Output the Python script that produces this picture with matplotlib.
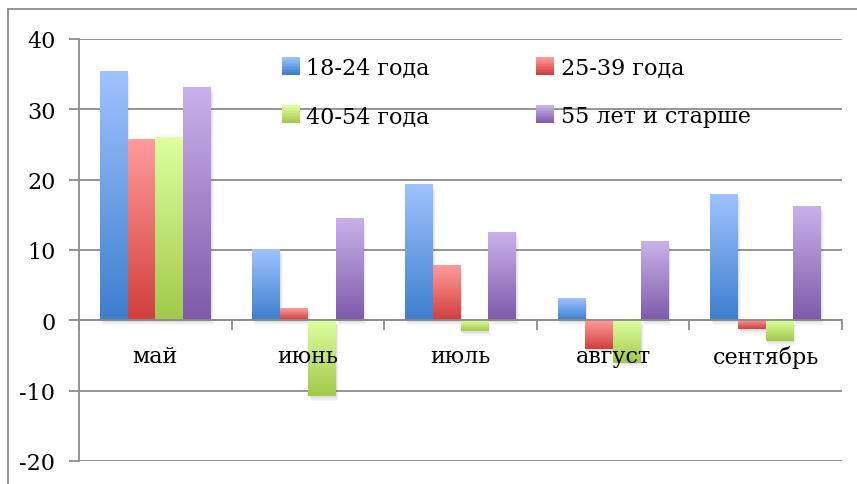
import numpy as np
import matplotlib
matplotlib.use("Agg")
import matplotlib.pyplot as plt
from matplotlib.colors import LinearSegmentedColormap
from matplotlib.patches import Rectangle
from matplotlib.legend_handler import HandlerBase
from matplotlib.lines import Line2D

months = ["май", "июнь", "июль", "август", "сентябрь"]
series = ["18-24 года", "25-39 года", "40-54 года", "55 лет и старше"]
v_18_24 = [35.4, 10.0, 19.2, 3.0, 17.9]
v_25_39 = [25.6, 1.6, 7.8, -4.1, -1.3]
v_40_54 = [25.9, -10.8, -1.5, -6.0, -2.9]
v_55 = [33.1, 14.4, 12.5, 11.1, 16.1]
values = [v_18_24, v_25_39, v_40_54, v_55]

# light (top) / dark (bottom) colours for each series
tops = ["#9ec2ff", "#ff9b9b", "#ddff9d", "#c8b1ea"]
bottoms = ["#3e7fce", "#d13f3e", "#a2c94b", "#7f5baa"]

plt.rcParams["font.family"] = ["DejaVu Serif"]
plt.rcParams["axes.unicode_minus"] = False
grey = "#8c8c8c"

fig = plt.figure(figsize=(8.57, 4.85), dpi=100)
ax = fig.add_axes([79 / 857, 1 - 462 / 485, (842 - 79) / 857, (462 - 40) / 485])

n = len(series)
width = 0.182
x = np.arange(len(months))

for i in range(n):
    cmap = LinearSegmentedColormap.from_list("g%d" % i, [bottoms[i], tops[i]])
    grad = np.linspace(0, 1, 64).reshape(-1, 1)
    bars = ax.bar(x + (i - (n - 1) / 2) * width, values[i], width, alpha=0)
    for b in bars:
        x0, w = b.get_x(), b.get_width()
        y0, h = b.get_y(), b.get_height()
        lo, hi = min(y0, y0 + h), max(y0, y0 + h)
        # soft shadow
        for k, a in enumerate([0.05, 0.04, 0.03]):
            d = 0.02 + k * 0.02
            ax.add_patch(Rectangle((x0 + d * 0.3, lo - d * 12), w, hi - lo,
                                   color="black", alpha=a, lw=0, zorder=1.5))
        ax.imshow(grad, extent=(x0, x0 + w, lo, hi), cmap=cmap, origin="lower",
                  aspect="auto", zorder=2, interpolation="bilinear")

ax.set_xlim(-0.5, len(months) - 0.5)
ax.set_ylim(-20, 40)
ax.set_yticks(range(-20, 41, 10))
ax.yaxis.grid(True, color=grey, lw=1.3)
ax.set_axisbelow(True)

for s in ["top", "right"]:
    ax.spines[s].set_visible(False)
ax.spines["left"].set_color(grey)
ax.spines["left"].set_linewidth(1.3)
ax.spines["bottom"].set_position(("data", 0))
ax.spines["bottom"].set_color(grey)
ax.spines["bottom"].set_linewidth(1.3)

ax.set_xticks(np.arange(len(months) + 1) - 0.5)
ax.set_xticklabels([])
ax.tick_params(axis="x", which="major", direction="out", length=7, color=grey, width=1.3)
ax.tick_params(axis="y", direction="out", length=7, color=grey, width=1.3, labelsize=16, pad=10)

# month labels on top of the bars
for xi, m in zip(x, months):
    ax.annotate(m, (xi, 0), xytext=(0, -26), textcoords="offset points",
                ha="center", va="center", fontsize=16, zorder=10)


class GradHandler(HandlerBase):
    def __init__(self, top, bottom):
        super().__init__()
        self.top, self.bottom = top, bottom

    def create_artists(self, legend, orig, xd, yd, w, h, fontsize, trans):
        cm = LinearSegmentedColormap.from_list("h", [self.bottom, self.top])
        side = h * 1.15
        arts = []
        steps = 12
        for k in range(steps):
            arts.append(Rectangle((-xd + w - side, -yd + (h - side) / 2 + side * k / steps),
                                  side, side / steps + 0.05, color=cm(k / (steps - 1)),
                                  lw=0, transform=trans))
        return arts


# legend filled row by row: 18-24, 25-39 / 40-54, 55+
order = [0, 2, 1, 3]
handles = [Rectangle((0, 0), 1, 1) for _ in series]
hmap = {handles[i]: GradHandler(tops[i], bottoms[i]) for i in range(n)}
leg = ax.legend([handles[i] for i in order], [series[i] for i in order],
                handler_map=hmap, ncol=2, frameon=False,
                loc="upper left", bbox_to_anchor=(0.237, 1.006), fontsize=16,
                handlelength=0.9, handletextpad=0.3, columnspacing=4.7,
                labelspacing=1.2)

# outer chart frame
fig.add_artist(Line2D([8 / 857, 1], [1 - 10 / 485, 1 - 10 / 485], color=grey, lw=1.3))
fig.add_artist(Line2D([8 / 857, 8 / 857], [0, 1 - 10 / 485], color=grey, lw=1.3))

fig.savefig("out.png", dpi=100)
